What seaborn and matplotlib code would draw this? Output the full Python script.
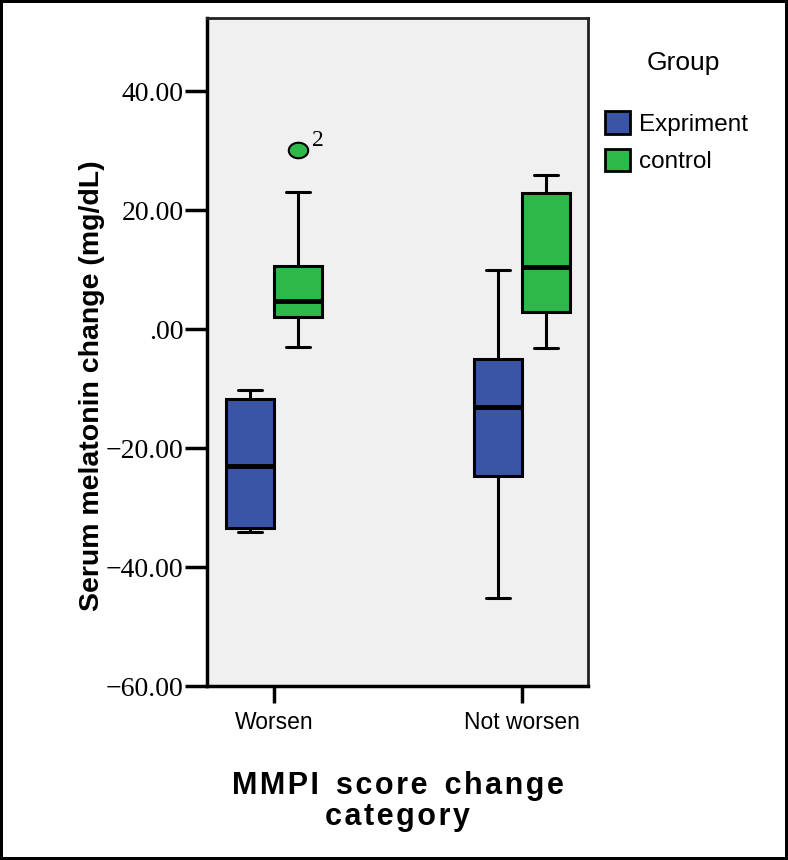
import matplotlib
matplotlib.use("Agg")
import matplotlib.pyplot as plt
import seaborn as sns
import pandas as pd
import numpy as np
from matplotlib.patches import Patch

# %%
# values
categories = ["Worsen", "Not worsen"]
groups = ["Expriment", "control"]

worsen_exp = [-34.1, -33.8, -33.4, -28.0, -23.0, -16.0, -11.8, -11.0, -10.3]
worsen_ctl = [-3.0, 0.5, 2.0, 3.5, 4.7, 7.5, 10.6, 23.0, 30.1]
notw_exp = [-45.2, -30.0, -24.7, -18.0, -13.1, -8.0, -5.0, 3.0, 9.9]
notw_ctl = [-3.2, 0.0, 2.9, 7.0, 10.4, 17.0, 22.9, 24.5, 25.9]

outlier_label = "2"
yticks = [-60, -40, -20, 0, 20, 40]
ytick_labels = ["\u221260.00", "\u221240.00", "\u221220.00", ".00", "20.00", "40.00"]

blue = "#3a55a6"
green = "#2fb84a"

# %%
rows = []
for cat, grp, vals in [("Worsen", "Expriment", worsen_exp), ("Worsen", "control", worsen_ctl),
                       ("Not worsen", "Expriment", notw_exp), ("Not worsen", "control", notw_ctl)]:
    for v in vals:
        rows.append({"category": cat, "group": grp, "value": v})
df = pd.DataFrame(rows)

# %%
sns.set_style("white")
plt.rcParams['font.family'] = ['Liberation Sans', 'DejaVu Sans']
plt.rcParams['text.color'] = 'black'
plt.rcParams['axes.labelcolor'] = 'black'
plt.rcParams['xtick.color'] = 'black'
plt.rcParams['ytick.color'] = 'black'

fig = plt.figure(figsize=(7.88, 8.60), dpi=100, linewidth=3, edgecolor="black")
ax = fig.add_axes([207/788, 1 - 686/860, 381/788, 668/860])
ax.set_facecolor("#f0f0f0")

# oval flier marker, a bit wider than tall
oval = np.array([[np.cos(t) * 1.25, np.sin(t)] for t in np.linspace(0, 2 * np.pi, 40)])

sns.boxplot(data=df, x="category", y="value", hue="group", order=categories, hue_order=groups,
            palette=[blue, green], width=0.39, gap=0, linewidth=2.2, linecolor="black",
            saturation=1, whis=1.5, ax=ax, legend=False,
            flierprops=dict(marker=oval, markerfacecolor=green, markeredgecolor="black",
                            markersize=14, markeredgewidth=1.5),
            medianprops=dict(linewidth=3.5, color="black"),
            capprops=dict(linewidth=2.2), whiskerprops=dict(linewidth=2.2))

# label the outlier
ax.annotate(outlier_label, xy=(0.39/4, max(worsen_ctl)), xytext=(10, 3), textcoords="offset points",
            fontsize=17, family="Liberation Serif")

ax.set_ylim(-60, 52.3)
ax.set_xlim(-0.27, 1.266)
ax.set_yticks(yticks)
ax.set_yticklabels(ytick_labels, family="Liberation Serif", fontsize=20)
ax.tick_params(axis="both", direction="out", length=12, width=2.5, color="black",
               bottom=True, left=True)
ax.tick_params(axis="x", labelsize=16.5, pad=6)
ax.tick_params(axis="y", pad=1, length=16)

for side in ["left", "bottom"]:
    ax.spines[side].set_linewidth(2.5)
    ax.spines[side].set_color("black")
for side in ["top", "right"]:
    ax.spines[side].set_linewidth(2.0)
    ax.spines[side].set_color("#222222")

ax.set_xlabel("M M P I  s c o r e  c h a n g e\nc a t e g o r y".replace("  ", "\u2002").replace(" ", "\u200a").replace("\u2002", "  "),
              fontsize=22, fontweight="bold", linespacing=1.07)
ax.xaxis.set_label_coords(0.5, -0.127)
ax.set_ylabel("Serum melatonin change (mg/dL)", fontsize=20.5, fontweight="bold")
ax.yaxis.set_label_coords(-0.268, 0.45)

# legend outside on the right
handles = [Patch(facecolor=blue, edgecolor="black", linewidth=2), Patch(facecolor=green, edgecolor="black", linewidth=2)]
leg = fig.legend(handles, groups, title="Group", loc="upper left", bbox_to_anchor=(583/788, 1 - 29/860),
                 frameon=False, fontsize=17.5, title_fontsize=19, handlelength=1.05, handleheight=1.05,
                 handletextpad=0.35, labelspacing=0.55)
leg._legend_box.sep = 26
leg.get_title().set_position((7, 0))

fig.savefig("out.png", dpi=100)
